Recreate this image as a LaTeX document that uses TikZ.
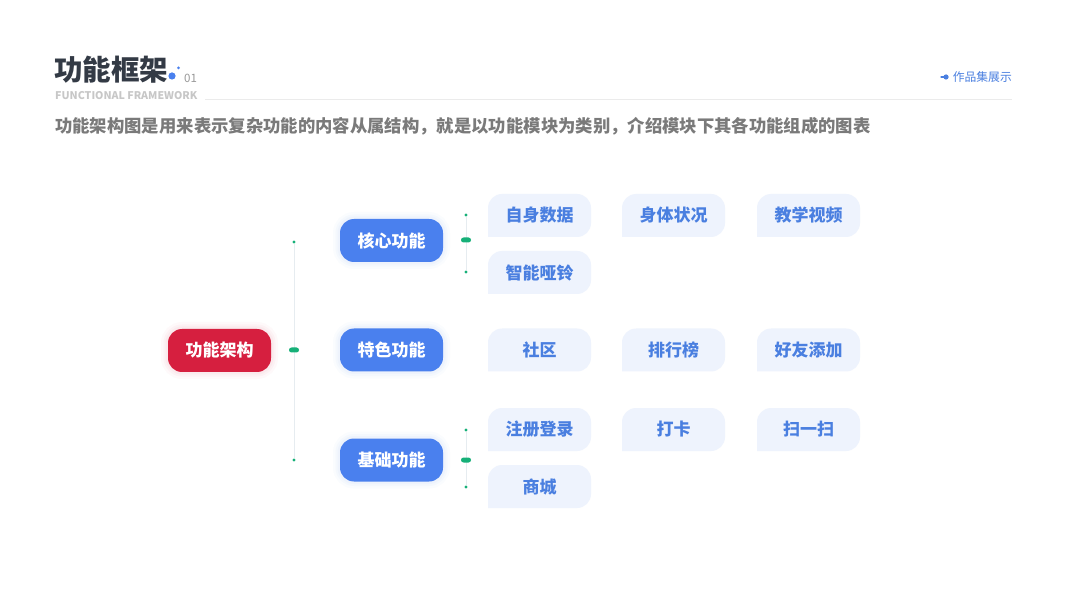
\documentclass[tikz,border=0pt]{standalone}
\usepackage{fontspec}
\setmainfont{Noto Sans CJK SC}
\definecolor{rootred}{HTML}{D61F3F}
\definecolor{mainblue}{HTML}{4A80EE}
\definecolor{lightfill}{HTML}{EEF3FD}
\definecolor{lighttext}{HTML}{4A7FE0}
\definecolor{dotgreen}{HTML}{16B078}
\definecolor{stemline}{HTML}{E6ECF0}
\definecolor{titlegray}{HTML}{333A45}
\definecolor{subgray}{HTML}{7A7A7A}
\tikzset{
  x=1pt, y=1pt,
  tagshape/.style={path picture={\fill[#1] (path picture bounding box.south west)
     -- ([yshift=-14pt]path picture bounding box.north west)
     arc[start angle=180,end angle=90,radius=14pt]
     -- ([xshift=-14pt]path picture bounding box.north east)
     arc[start angle=90,end angle=0,radius=14pt]
     -- ([yshift=14pt]path picture bounding box.south east)
     arc[start angle=0,end angle=-90,radius=14pt] -- cycle;}},
  glow/.style={rounded corners=14pt,
     preaction={draw=#1, draw opacity=0.025, line width=14pt},
     preaction={draw=#1, draw opacity=0.03, line width=9pt},
     preaction={draw=#1, draw opacity=0.035, line width=5pt}},
  tag/.style={minimum width=103pt, minimum height=43pt, inner sep=0pt,
     font=\bfseries\fontsize{17}{20}\selectfont},
  rootbox/.style={tag, glow=rootred, tagshape=rootred, text=white},
  mainbox/.style={tag, glow=mainblue, tagshape=mainblue, text=white},
  leafbox/.style={tag, tagshape=lightfill, text=lighttext},
  pill/.style={fill=dotgreen, rounded corners=2.5pt, minimum width=10pt,
     minimum height=5pt, inner sep=0pt},
  gdot/.style={circle, fill=dotgreen, minimum size=3.4pt, inner sep=0pt},
  stem/.style={draw=stemline, line width=1pt},
}
\begin{document}
\begin{tikzpicture}
\fill[white] (0,0) rectangle (1067,600);
\useasboundingbox (0,0) rectangle (1067,600);

% header
\node[anchor=west, inner sep=0pt, text=titlegray, font=\bfseries\fontsize{28.5}{30}\selectfont] (title) at (54,530) {功能框架};
\fill[mainblue] (172,524) circle (3.6);
\fill[mainblue] (178.5,532) circle (1.5);
\node[anchor=west, inner sep=0pt, text=gray!80, font=\fontsize{11.5}{13}\selectfont] (num) at (184,522) {01};
\node[anchor=west, inner sep=0pt, text=black!22, font=\bfseries\fontsize{10.6}{12}\selectfont] (eng) at (55,504) {FUNCTIONAL FRAMEWORK};
\draw[black!8, line width=0.8pt] (205,501) -- (1012,501);
\node[anchor=east, inner sep=0pt, text=lighttext, font=\fontsize{11.8}{13}\selectfont] (works) at (1012,523) {作品集展示};
\fill[lighttext] (946,523) circle (2.6);
\draw[lighttext, line width=1.2pt, line cap=round] (941,523) -- (946,523);
\node[anchor=west, inner sep=0pt, text=subgray, font=\bfseries\fontsize{17.35}{20}\selectfont] (sub) at (55,474) {功能架构图是用来表示复杂功能的内容从属结构，就是以功能模块为类别，介绍模块下其各功能组成的图表};

% stems
\node[gdot] (t0) at (294,358) {};
\node[gdot] (b0) at (294,140) {};
\draw[stem] (t0) -- (b0);
\node[pill] (p0) at (294,250) {};

\node[gdot] (t1) at (466,385) {};
\node[gdot] (b1) at (466,328) {};
\draw[stem] (t1) -- (b1);
\node[pill] (p1) at (466,360) {};

\node[gdot] (t3) at (466,170) {};
\node[gdot] (b3) at (466,113) {};
\draw[stem] (t3) -- (b3);
\node[pill] (p3) at (466,140) {};

% nodes
\node[rootbox] (root) at (219.5,249.5) {功能架构};
\node[mainbox] (core) at (391.5,359.5) {核心功能};
\node[mainbox] (feat) at (391.5,250) {特色功能};
\node[mainbox] (base) at (391.5,140) {基础功能};

\node[leafbox] (l11) at (539.5,384.5) {自身数据};
\node[leafbox] (l12) at (673.5,384.5) {身体状况};
\node[leafbox] (l13) at (808.5,384.5) {教学视频};
\node[leafbox] (l21) at (539.5,327.5) {智能哑铃};
\node[leafbox] (l31) at (539.5,250) {社区};
\node[leafbox] (l32) at (673.5,250) {排行榜};
\node[leafbox] (l33) at (808.5,250) {好友添加};
\node[leafbox] (l41) at (539.5,170.5) {注册登录};
\node[leafbox] (l42) at (673.5,170.5) {打卡};
\node[leafbox] (l43) at (808.5,170.5) {扫一扫};
\node[leafbox] (l51) at (539.5,113.5) {商城};
\end{tikzpicture}
\end{document}
